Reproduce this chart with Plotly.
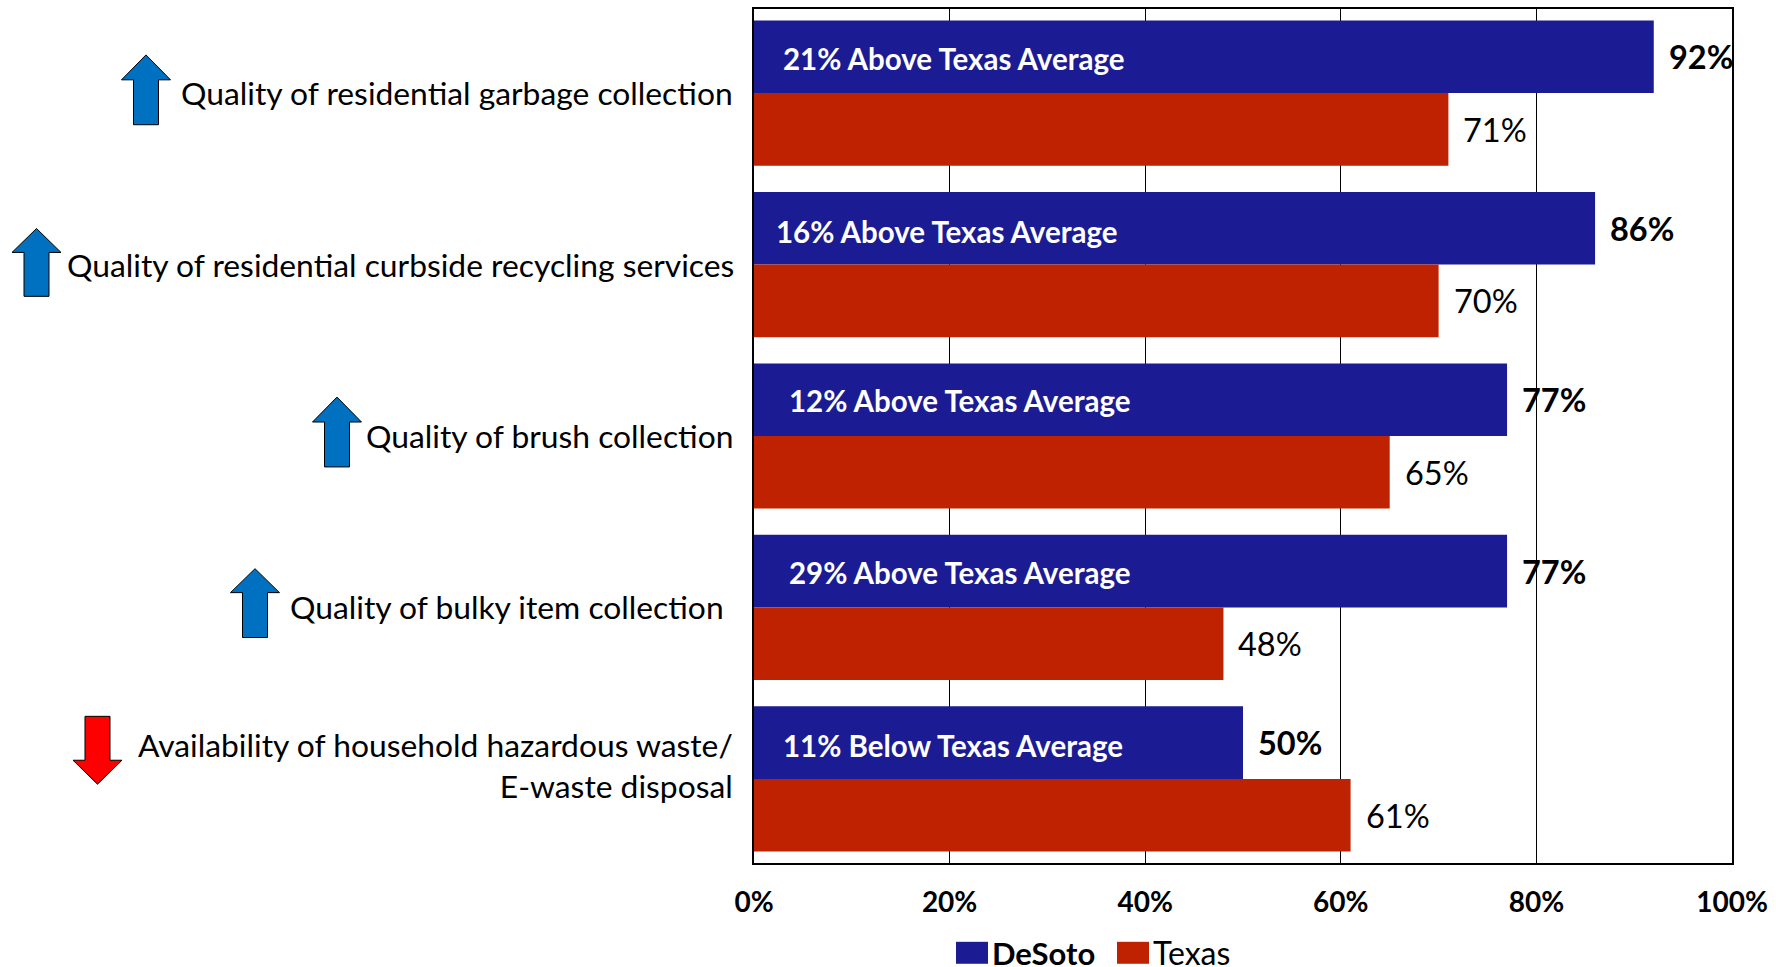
import plotly.graph_objects as go

categories = [
    "Quality of residential garbage collection",
    "Quality of residential curbside recycling services",
    "Quality of brush collection",
    "Quality of bulky item collection",
    "Availability of household hazardous waste/<br>E-waste disposal",
]
desoto = [92, 86, 77, 77, 50]
texas = [71, 70, 65, 48, 61]
notes = [
    "21% Above Texas Average",
    "16% Above Texas Average",
    "12% Above Texas Average",
    "29% Above Texas Average",
    "11% Below Texas Average",
]
tick_values = [0, 20, 40, 60, 80, 100]
tick_labels = ["0%", "20%", "40%", "60%", "80%", "100%"]

W, H = 1776, 967
L, R, T, B = 754, 1732, 7, 863
FONT = "Lato"
NAVY, RED = "#1B1B94", "#BE2200"
BAR = 0.4235

fig = go.Figure()
fig.add_bar(name="DeSoto", y=categories, x=desoto, orientation="h",
            marker=dict(color=NAVY, line_width=0))
fig.add_bar(name="Texas", y=categories, x=texas, orientation="h",
            marker=dict(color=RED, line_width=0))

ann = []
label_xshift = [-19, -18, -19, -28, -19]
label_yshift = [0, 0, 0, 0, 13]
note_xshift = [27, 20, 33, 33, 27]
note_yshift = [-2, -3, -1, -1, -3]
for i, c in enumerate(categories):
    ann.append(dict(x=0, y=i, xref="x", yref="y", text=c, xanchor="right", yanchor="middle",
                    align="right", xshift=label_xshift[i], yshift=label_yshift[i],
                    showarrow=False, font=dict(family=FONT, size=31.8, color="black")))
    ann.append(dict(x=0, y=i - BAR / 2, xref="x", yref="y", text=f"<b>{notes[i]}</b>",
                    xanchor="left", yanchor="middle", xshift=note_xshift[i], yshift=note_yshift[i],
                    showarrow=False, font=dict(family=FONT, size=29.5, color="white")))
    ann.append(dict(x=desoto[i], y=i - BAR / 2, xref="x", yref="y", text=f"<b>{desoto[i]}%</b>",
                    xanchor="left", yanchor="middle", xshift=13, showarrow=False,
                    font=dict(family=FONT, size=32.5, color="black")))
    ann.append(dict(x=texas[i], y=i + BAR / 2, xref="x", yref="y", text=f"{texas[i]}%",
                    xanchor="left", yanchor="middle", xshift=13, showarrow=False,
                    font=dict(family=FONT, size=32.5, color="black")))

# paper coordinates are relative to the plot area
def to_x(x): return (x - L) / (R - L)
def to_y(y): return 1 - (y - T) / (B - T)

def arrow_path(cx, tip, base, tail):
    pts = [(cx - 12.5, tail), (cx + 12.5, tail), (cx + 12.5, base), (cx + 24.5, base),
           (cx, tip), (cx - 24.5, base), (cx - 12.5, base)]
    return "M " + " L ".join(f"{to_x(x):.5f} {to_y(y):.5f}" for x, y in pts) + " Z"

shapes = []
for cx, tip, base, tail in [(146, 53, 78, 123), (36.5, 227, 251, 295), (337, 396, 421, 466), (255, 568, 592, 637)]:
    shapes.append(dict(type="path", xref="paper", yref="paper", path=arrow_path(cx, tip, base, tail),
                       fillcolor="#0070C0", line=dict(color="black", width=1)))
shapes.append(dict(type="path", xref="paper", yref="paper", path=arrow_path(97.5, 784, 760, 716),
                   fillcolor="#FF0000", line=dict(color="black", width=1)))

# hand-placed legend, matching the large swatches of the reference
for x0, x1, color in [(956, 988, NAVY), (1117, 1149, RED)]:
    shapes.append(dict(type="rect", xref="paper", yref="paper", x0=to_x(x0), x1=to_x(x1),
                       y0=to_y(964), y1=to_y(942), fillcolor=color, line_width=0))
ann.append(dict(xref="paper", yref="paper", x=to_x(990), y=to_y(953), text="<b>DeSoto</b>", xanchor="left",
                yanchor="middle", showarrow=False, font=dict(family=FONT, size=31, color="black")))
ann.append(dict(xref="paper", yref="paper", x=to_x(1151), y=to_y(953), text="Texas", xanchor="left",
                yanchor="middle", showarrow=False, font=dict(family=FONT, size=32, color="black")))

fig.update_layout(
    width=W, height=H, autosize=False,
    margin=dict(l=L, r=W - R, t=T, b=H - B),
    plot_bgcolor="white", paper_bgcolor="white",
    barmode="group", bargap=1 - 2 * BAR, bargroupgap=0,
    font=dict(family=FONT, color="black"),
    showlegend=False,
    annotations=ann, shapes=shapes,
    xaxis=dict(range=[0, 100], tickvals=tick_values, ticktext=[f"<b>{t}</b>" for t in tick_labels],
               showgrid=True, gridcolor="black", gridwidth=1, zeroline=False,
               showline=True, linecolor="black", linewidth=2, mirror=True, ticks="", ticklen=0,
               ticklabelstandoff=13,
               tickfont=dict(family=FONT, size=28, color="black"), layer="below traces"),
    yaxis=dict(type="category", categoryorder="array", categoryarray=categories, range=[4.49, -0.49],
               showticklabels=False, showgrid=False, zeroline=False,
               showline=True, linecolor="black", linewidth=2, mirror=True, ticks=""),
)
fig.write_html("out.html", config=dict(displayModeBar=False),
               post_script="document.body.style.margin='0';document.body.style.overflow='hidden';")
